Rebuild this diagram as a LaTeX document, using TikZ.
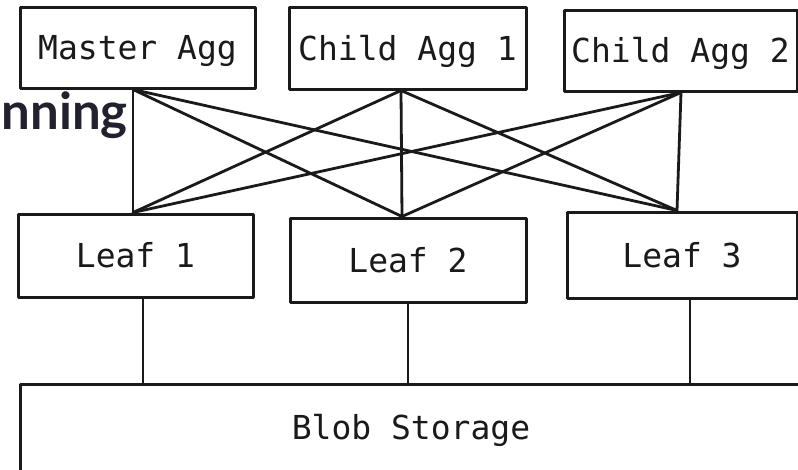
\documentclass[tikz,border=0pt]{standalone}
\usepackage{fontspec}
\newfontfamily\monof{DejaVu Sans Mono}
\newfontfamily\headf{Lato}
\definecolor{ink}{HTML}{1A1A1A}
\definecolor{heading}{HTML}{22222E}
\tikzset{
  box/.style={draw=ink, line width=3pt, line join=round, fill=white,
    inner sep=0pt, text height=24pt, text depth=0pt,
    font=\monof\fontsize{33}{36}\selectfont, text=ink},
  wire/.style={draw=ink, line width=2.8pt, line cap=round}
}
\begin{document}
\begin{tikzpicture}[x=1pt, y=-1pt]
  \useasboundingbox (0,0) rectangle (798,469);
  \clip (0,0) rectangle (798,469);

  % partial heading behind the diagram
  \node[anchor=base east, inner sep=0pt, text=heading,
        font=\headf\bfseries\fontsize{51}{56}\selectfont] (hd) at (128,129) {nning};

  % aggregator row
  \node[box, minimum width=235pt, minimum height=81pt] (ma) at (137.5,47.5) {Master Agg};
  \node[box, minimum width=237pt, minimum height=82pt] (c1) at (407.5,48) {Child Agg 1};
  \node[box, minimum width=233pt, minimum height=81pt] (c2) at (680.5,50.5) {Child Agg 2};

  % leaf row
  \node[box, minimum width=235pt, minimum height=83pt] (l1) at (135.5,255.5) {Leaf 1};
  \node[box, minimum width=236pt, minimum height=84pt] (l2) at (408,260) {Leaf 2};
  \node[box, minimum width=230pt, minimum height=86pt] (l3) at (682,255) {Leaf 3};

  % storage layer, running off the lower and right edges
  \node[box, text depth=6pt, minimum width=782pt, minimum height=92pt] (blob) at (411,430) {Blob Storage};

  % attachment points
  \coordinate (a0) at ([xshift=-4.5pt]ma.south);
  \coordinate (a1) at ([xshift=-6.5pt]c1.south);
  \coordinate (a2) at ([xshift=0.5pt]c2.south);
  \coordinate (b0) at ([xshift=-2.5pt]l1.north);
  \coordinate (b1) at ([xshift=-6pt]l2.north);
  \coordinate (b2) at ([xshift=-5pt]l3.north);
  \coordinate (s0) at ([xshift=7.5pt]l1.south);
  \coordinate (s1) at (l2.south);
  \coordinate (s2) at ([xshift=8pt]l3.south);

  % every aggregator talks to every leaf
  \foreach \a in {a0,a1,a2}
    \foreach \b in {b0,b1,b2}
      \draw[wire] (\a) -- (\b);

  % leaves read from blob storage
  \foreach \s in {s0,s1,s2}
    \draw[wire] (\s) -- (\s |- blob.north);
\end{tikzpicture}
\end{document}
